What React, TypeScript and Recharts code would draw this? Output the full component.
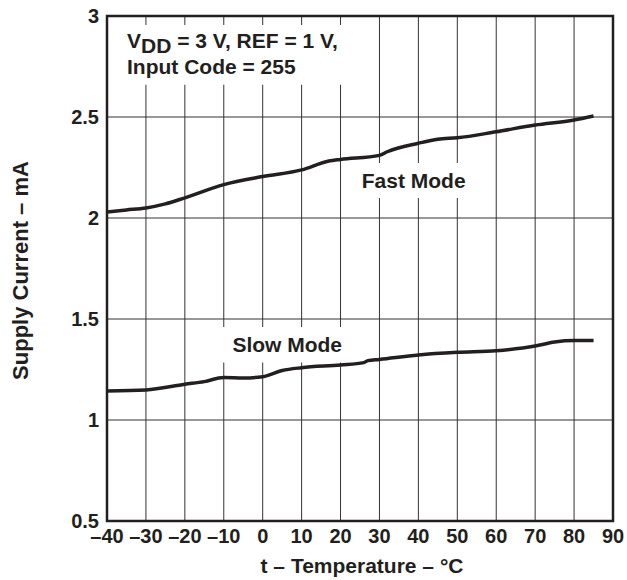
import React from 'react'
import { LineChart, Line, XAxis, YAxis, CartesianGrid, ReferenceArea } from 'recharts'

const xTicks = [-40, -30, -20, -10, 0, 10, 20, 30, 40, 50, 60, 70, 80, 90]
const yTicks = [0.5, 1, 1.5, 2, 2.5, 3]

const fastTemp = [-40, -35, -30, -25, -20, -10, 0, 10, 17, 20, 30, 32, 40, 45, 50, 60, 70, 80, 85]
const fastCurrent = [2.03, 2.04, 2.05, 2.07, 2.1, 2.165, 2.205, 2.238, 2.282, 2.29, 2.31, 2.328, 2.37, 2.39, 2.397, 2.427, 2.46, 2.485, 2.505]

const slowTemp = [-40, -30, -20, -15, -10, -5, 0, 5, 10, 20, 26, 27, 30, 40, 50, 60, 70, 75, 80, 85]
const slowCurrent = [1.144, 1.149, 1.177, 1.19, 1.21, 1.208, 1.214, 1.245, 1.259, 1.272, 1.284, 1.294, 1.3, 1.322, 1.335, 1.343, 1.366, 1.386, 1.393, 1.393]

const fastData = fastTemp.map((t, i) => ({ t, v: fastCurrent[i] }))
const slowData = slowTemp.map((t, i) => ({ t, v: slowCurrent[i] }))

const FONT = '"Liberation Sans", Arial, Helvetica, sans-serif'
const INK = '#231f20'

const fmtX = (v: number) => (v < 0 ? '\u2013' + Math.abs(v) : String(v))

const tickStyle = { fontSize: 20, fontWeight: 'bold', fill: INK, fontFamily: FONT }

function centerText(text: string) {
  return (props: any) => {
    const vb = props.viewBox
    return (
      <text
        x={vb.x + vb.width / 2}
        y={vb.y + vb.height / 2}
        textAnchor="middle"
        dominantBaseline="central"
        fontSize={21}
        fontWeight="bold"
        fill={INK}
        fontFamily={FONT}
      >
        {text}
      </text>
    )
  }
}

function Conditions(props: any) {
  const vb = props.viewBox
  return (
    <text fontSize={21} fontWeight="bold" fill={INK} fontFamily={FONT}>
      <tspan x={vb.x + 20} y={vb.y + 23}>V</tspan>
      <tspan dy={5}>DD</tspan>
      <tspan dy={-5}> = 3 V, REF = 1 V,</tspan>
      <tspan x={vb.x + 20} y={vb.y + 49}>Input Code = 255</tspan>
    </text>
  )
}

function YTitle(props: any) {
  const vb = props.viewBox
  const x = vb.x + 20
  const y = vb.y + vb.height / 2 + 2
  return (
    <text
      x={x}
      y={y}
      transform={`rotate(-90 ${x} ${y})`}
      textAnchor="middle"
      dominantBaseline="central"
      fontSize={22}
      fontWeight="bold"
      fill={INK}
      fontFamily={FONT}
    >
      Supply Current – mA
    </text>
  )
}

function XTitle(props: any) {
  const vb = props.viewBox
  return (
    <text
      x={vb.x + vb.width / 2 + 2}
      y={vb.y + 52}
      textAnchor="middle"
      fontSize={21}
      fontWeight="bold"
      fill={INK}
      fontFamily={FONT}
    >
      t – Temperature – °C
    </text>
  )
}

export default function App() {
  return (
    <div style={{ position: 'absolute', left: 0, top: 0, background: '#fff' }}>
      <LineChart width={627} height={580} margin={{ top: 16, right: 14, bottom: 0, left: 0 }}>
        <CartesianGrid stroke="#333" strokeWidth={1} />
        <XAxis
          type="number"
          dataKey="t"
          height={59}
          domain={[-40, 90]}
          ticks={xTicks}
          tickFormatter={fmtX}
          tickLine={false}
          axisLine={false}
          tick={tickStyle}
          interval={0}
          allowDataOverflow
          label={<XTitle />}
        />
        <YAxis
          type="number"
          dataKey="v"
          width={107}
          domain={[0.5, 3]}
          ticks={yTicks}
          tickLine={false}
          axisLine={false}
          tick={tickStyle}
          interval={0}
          allowDataOverflow
          label={<YTitle />}
        />
        <ReferenceArea x1={-40} x2={28.7} y1={2.66} y2={2.955} fill="#fff" fillOpacity={1} stroke="none" label={<Conditions />} />
        <ReferenceArea x1={24.4} x2={53.2} y1={2.099} y2={2.272} fill="#fff" fillOpacity={1} stroke="none" label={centerText('Fast Mode')} />
        <ReferenceArea x1={-11} x2={23.6} y1={1.285} y2={1.46} fill="#fff" fillOpacity={1} stroke="none" label={centerText('Slow Mode')} />
        <ReferenceArea x1={-40} x2={90} y1={0.5} y2={3} fill="none" stroke={INK} strokeWidth={2.5} />
        <Line data={fastData} dataKey="v" type="monotone" stroke={INK} strokeWidth={3.5} dot={false} isAnimationActive={false} />
        <Line data={slowData} dataKey="v" type="monotone" stroke={INK} strokeWidth={3.5} dot={false} isAnimationActive={false} />
      </LineChart>
    </div>
  )
}
